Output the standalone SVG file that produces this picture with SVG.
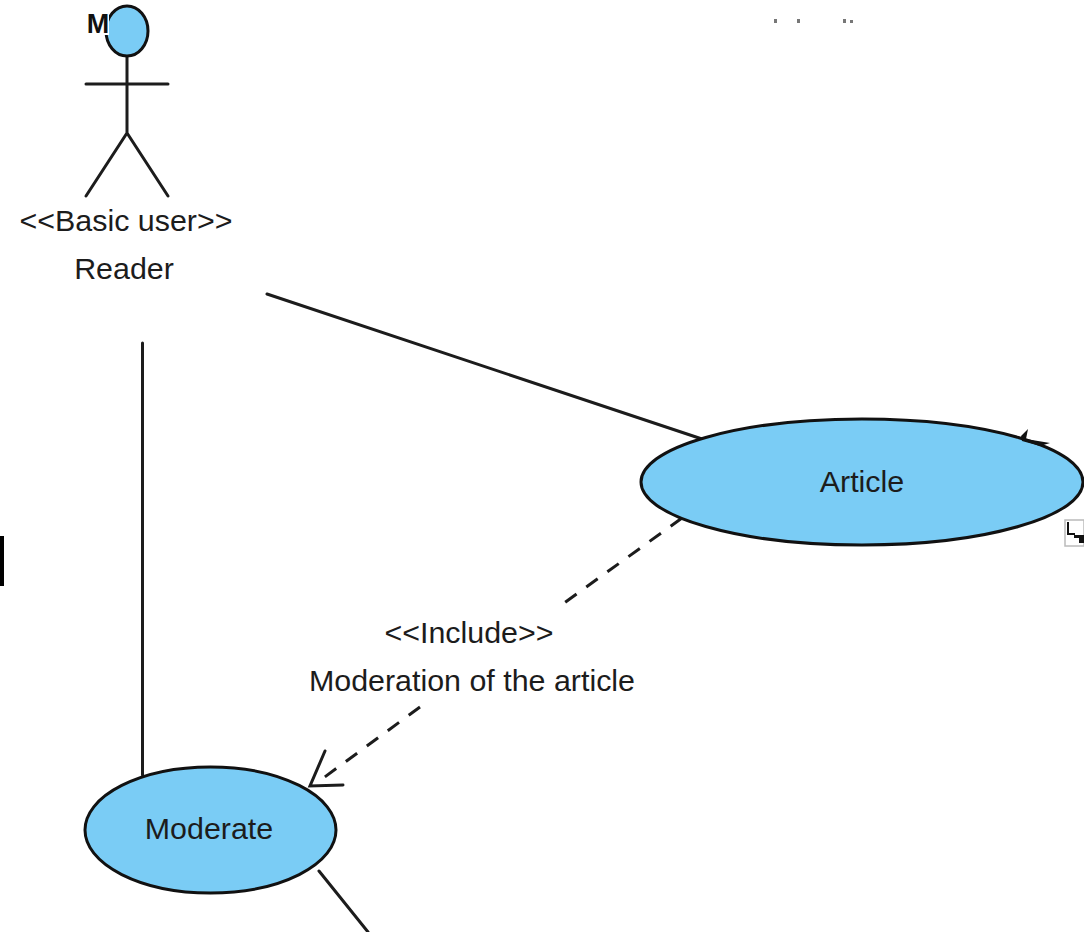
<svg xmlns="http://www.w3.org/2000/svg" width="1084" height="932" viewBox="0 0 1084 932">
<style>
text{font-family:"Liberation Sans",Arial,sans-serif;font-size:30.400px;fill:#1c1c1c;text-anchor:middle}
.l{fill:none;stroke:#1c1c1c;stroke-width:3;stroke-linecap:round}
.d{fill:none;stroke:#1c1c1c;stroke-width:3;stroke-dasharray:14 12}
.u{fill:#7accf5;stroke:#111;stroke-width:3}
</style>
<rect width="1084" height="932" fill="#fff"/>
<g id="connectors">
<path class="l" d="M267 294L702 439"/>
<path class="l" d="M142.500 343V775"/>
<path class="l" d="M319 871L368 932"/>
<path class="d" d="M682 518L560 606"/>
<path class="d" d="M420 707L322 779"/>
<path class="l" d="M325 751L310 786L343 785"/>
</g>
<g id="reader">
<path class="l" d="M127 56V133M86 84H168M86 196L127 133L168 196"/>
<ellipse class="u" cx="127" cy="31" rx="21" ry="25"/>
<rect x="86" y="8" width="23" height="27" fill="#fff"/>
<text x="98" y="33" style="font-weight:700;font-size:27px;fill:#111">M</text>
<text x="126" y="231">&lt;&lt;Basic user&gt;&gt;</text>
<text x="124" y="279">Reader</text>
</g>
<g id="article">
<ellipse class="u" cx="862" cy="482" rx="221" ry="63"/>
<path d="M1021 436L1028 429L1026 439L1050 443L1040 446L1022 441Z" fill="#111"/>
<text x="862" y="492">Article</text>
<rect x="1065" y="520" width="19" height="26" fill="#fff" stroke="#bbb" stroke-width="1.500"/>
<path d="M1068 522V534H1075" fill="none" stroke="#111" stroke-width="2"/>
<path d="M1074 535H1084V543H1079V538H1074Z" fill="#111"/>
</g>
<g id="moderate">
<ellipse class="u" cx="210.500" cy="830" rx="125.500" ry="63"/>
<text x="209" y="839">Moderate</text>
</g>
<g id="include-label">
<text x="469" y="643">&lt;&lt;Include&gt;&gt;</text>
<text x="472" y="691">Moderation of the article</text>
</g>
<rect x="0" y="536" width="4" height="50" fill="#000"/>
<g fill="#777">
<rect x="774" y="19" width="3" height="4"/><rect x="797" y="19" width="3" height="4"/><rect x="843" y="19" width="3" height="4"/><rect x="850" y="20" width="3" height="3"/>
</g>
</svg>
